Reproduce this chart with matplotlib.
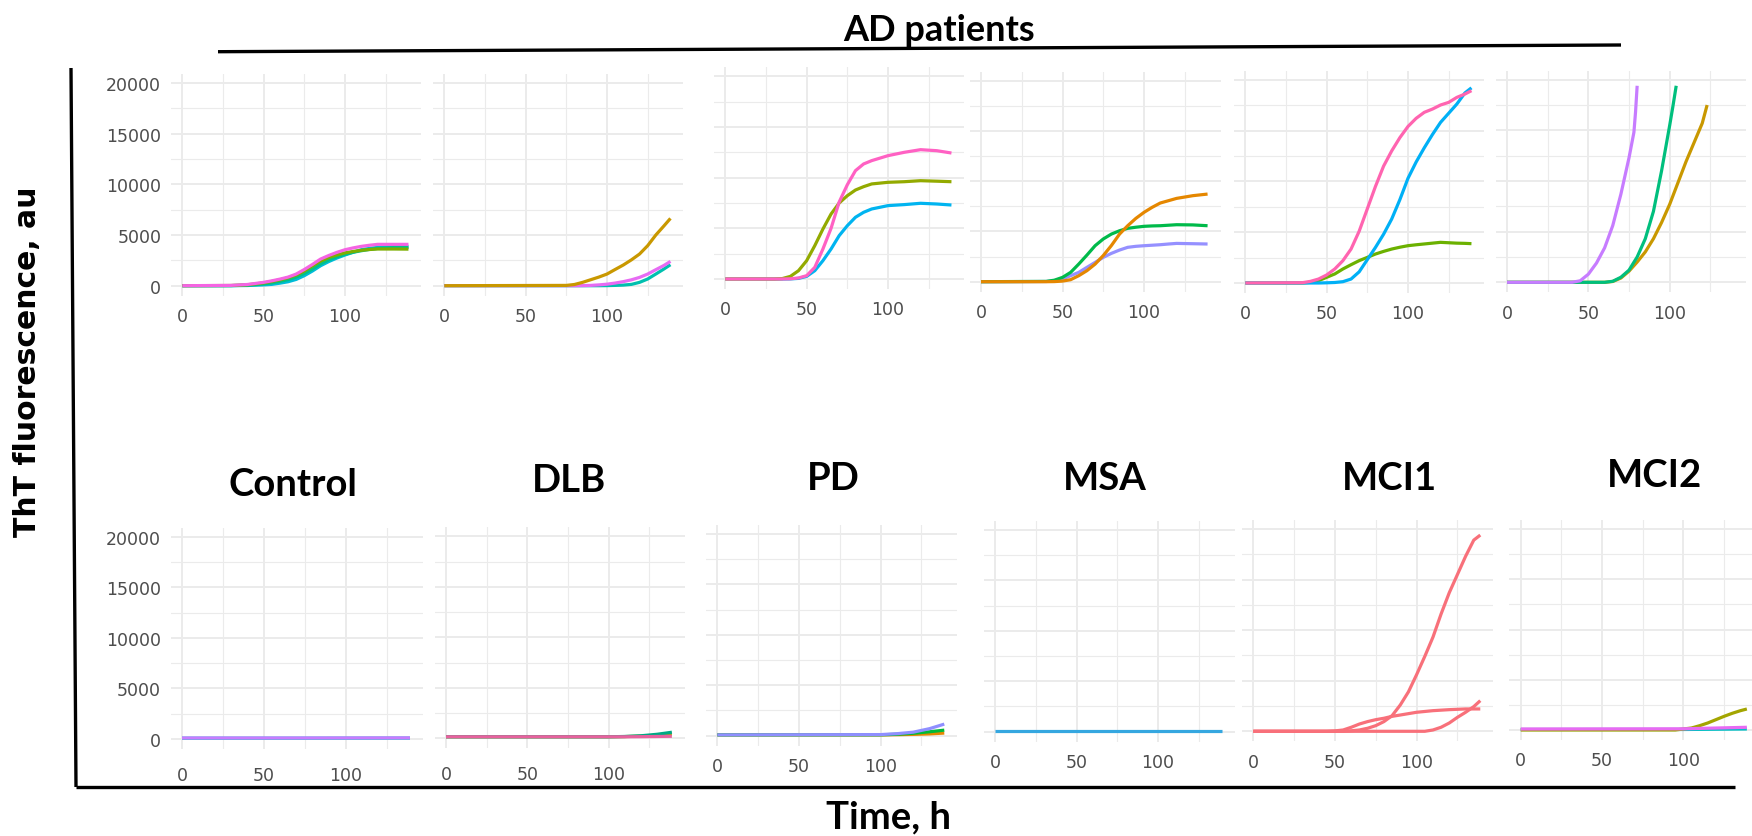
import matplotlib
matplotlib.use("Agg")
import matplotlib.pyplot as plt
from matplotlib.lines import Line2D

W, H = 1752, 837

# ---------------- ThT kinetics: fluorescence (au) vs time (h) ----------------
# Top row: AD patient samples
top_control_h = [0, 30, 40, 50, 55, 60, 65, 70, 75, 80, 85, 90, 95, 100, 105, 110, 115, 120, 130, 139]
top_control_pink = [0, 30, 120, 330, 480, 650, 850, 1150, 1600, 2100, 2630, 2980, 3290, 3550, 3730, 3880, 3990, 4080, 4080, 4080]
top_control_olive = [0, 20, 90, 280, 420, 580, 780, 1050, 1450, 1950, 2430, 2780, 3030, 3240, 3380, 3490, 3570, 3620, 3620, 3610]
top_control_teal = [0, 10, 50, 170, 280, 420, 600, 850, 1200, 1650, 2150, 2550, 2850, 3100, 3300, 3450, 3580, 3680, 3760, 3780]
top_control_cyan = [0, 0, 20, 80, 130, 250, 390, 620, 990, 1450, 1970, 2380, 2730, 3030, 3300, 3550, 3680, 3780, 3860, 3880]

top_dlb_h = [0, 75, 80, 85, 90, 95, 100, 105, 110, 115, 120, 125, 130, 135, 139]
top_dlb_gold = [0, 30, 120, 330, 590, 850, 1150, 1600, 2040, 2550, 3125, 3950, 5000, 5900, 6640]
top_dlb_violet = [0, 0, 0, 10, 30, 80, 150, 260, 400, 580, 820, 1150, 1580, 2000, 2400]
top_dlb_teal = [0, 0, 0, 0, 0, 0, 10, 30, 60, 130, 330, 660, 1150, 1650, 2070]

top_pd_h = [0, 30, 35, 40, 45, 50, 55, 60, 65, 70, 75, 80, 85, 90, 100, 110, 120, 130, 139]
top_pd_olive = [0, 0, 40, 260, 820, 1810, 3290, 4930, 6410, 7500, 8220, 8780, 9110, 9380, 9540, 9600, 9700, 9650, 9600]
top_pd_pink = [0, 0, 0, 20, 100, 330, 1150, 2960, 5000, 7600, 9300, 10690, 11350, 11680, 12170, 12500, 12760, 12660, 12430]
top_pd_cyan = [0, 0, 0, 10, 60, 260, 820, 1810, 2960, 4280, 5260, 6090, 6580, 6910, 7240, 7340, 7470, 7400, 7300]

top_msa_h = [0, 40, 45, 50, 55, 60, 65, 70, 75, 80, 85, 90, 95, 100, 105, 110, 115, 120, 130, 139]
top_msa_orange = [0, 0, 10, 60, 200, 600, 1100, 1750, 2600, 3600, 4740, 5570, 6300, 6900, 7400, 7830, 8060, 8290, 8560, 8720]
top_msa_green = [0, 30, 150, 430, 930, 1760, 2650, 3580, 4250, 4740, 5070, 5310, 5420, 5510, 5550, 5570, 5620, 5670, 5650, 5570]
top_msa_lavender = [0, 20, 100, 270, 600, 930, 1430, 1920, 2420, 2820, 3150, 3420, 3520, 3580, 3630, 3680, 3750, 3810, 3780, 3750]

top_mci1_h = [0, 35, 40, 45, 50, 55, 60, 65, 70, 75, 80, 85, 90, 95, 100, 105, 110, 115, 120, 125, 130, 135, 139]
top_mci1_pink = [0, 30, 160, 390, 790, 1380, 2200, 3340, 5100, 7300, 9500, 11500, 13000, 14300, 15400, 16200, 16790, 17110, 17510, 17770, 18260, 18590, 18920]
top_mci1_blue = [0, 0, 0, 0, 20, 50, 130, 390, 1100, 2300, 3500, 4800, 6300, 8200, 10300, 11900, 13300, 14600, 15800, 16700, 17600, 18700, 19200]
top_mci1_green = [0, 0, 60, 230, 560, 890, 1380, 1800, 2200, 2520, 2850, 3110, 3340, 3520, 3670, 3760, 3840, 3920, 4000, 3960, 3920, 3900, 3870]

top_mci2_purple_h = [0, 40, 45, 50, 55, 60, 65, 70, 75, 78, 79, 80]
top_mci2_purple = [0, 0, 150, 800, 1900, 3400, 5600, 8700, 12300, 14800, 16800, 19400]
top_mci2_teal_h = [0, 60, 65, 70, 75, 80, 85, 90, 95, 100, 102, 104]
top_mci2_teal = [0, 0, 100, 500, 1200, 2500, 4300, 7000, 11000, 15500, 17400, 19400]
top_mci2_gold_h = [0, 60, 65, 70, 75, 80, 85, 90, 95, 100, 105, 110, 115, 120, 123]
top_mci2_gold = [0, 0, 80, 420, 1100, 2000, 3000, 4300, 5900, 7700, 9800, 11900, 13800, 15700, 17500]

# Bottom row: group samples
bot_control_h = [0, 70, 139]
bot_control_teal = [80, 80, 90]
bot_control_purple = [100, 100, 110]

bot_dlb_h = [0, 100, 110, 120, 130, 139]
bot_dlb_teal = [150, 150, 180, 250, 400, 600]
bot_dlb_olive = [150, 150, 170, 220, 300, 400]
bot_dlb_pink = [150, 150, 150, 160, 180, 200]

bot_pd_h = [0, 100, 110, 120, 130, 139]
bot_pd_orange = [80, 80, 100, 130, 180, 260]
bot_pd_green = [80, 90, 140, 240, 390, 550]
bot_pd_lavender = [80, 110, 200, 350, 700, 1150]

bot_msa_h = [0, 70, 139]
bot_msa_blue = [60, 60, 60]

bot_mci1_a_h = [0, 55, 60, 65, 70, 75, 80, 85, 90, 95, 100, 105, 110, 115, 120, 125, 130, 135, 139]
bot_mci1_a = [0, 0, 50, 130, 300, 560, 960, 1550, 2600, 3900, 5600, 7400, 9300, 11600, 13700, 15500, 17300, 18900, 19400]
bot_mci1_b_h = [0, 45, 50, 55, 60, 65, 70, 75, 80, 85, 90, 100, 110, 120, 130, 139]
bot_mci1_b = [0, 0, 40, 130, 400, 720, 960, 1150, 1290, 1480, 1610, 1880, 2040, 2140, 2210, 2210]
bot_mci1_c_h = [0, 105, 110, 115, 120, 125, 130, 135, 139]
bot_mci1_c = [0, 0, 130, 400, 820, 1380, 1880, 2440, 3030]

bot_mci2_olive_h = [0, 95, 100, 105, 110, 115, 120, 125, 130, 135, 139]
bot_mci2_olive = [0, 0, 100, 200, 430, 700, 1030, 1360, 1660, 1920, 2090]
bot_mci2_h = [0, 100, 139]
bot_mci2_cyan = [50, 50, 100]
bot_mci2_magenta = [100, 120, 270]

x_ticks = [0, 50, 100]
x_minor = [25, 75, 125]
y_ticks = [0, 5000, 10000, 15000, 20000]
y_minor = [2500, 7500, 12500, 17500]

group_titles = ["Control", "DLB", "PD", "MSA", "MCI1", "MCI2"]

# ---------------- layout ----------------
XLIM = (-7, 147)
YLIM = (-1000, 20900)
GRID = "#EBEBEB"
TICK_COLOR = "#4D4D4D"

fig = plt.figure(figsize=(W / 100, H / 100), dpi=100)
fig.patch.set_facecolor("white")


def px(x, y):
    return x / W, 1 - y / H


def add_panel(x0, pph, y0, y20k, series, ylabels=False, xpad=8.0):
    """x0/y0: pixel position of (0 h, 0 au); pph: px per hour; y20k: pixel y of 20000 au."""
    ppu = (y0 - y20k) / 20000.0
    left = x0 + XLIM[0] * pph
    width = (XLIM[1] - XLIM[0]) * pph
    bottom = y0 - YLIM[0] * ppu
    height = (YLIM[1] - YLIM[0]) * ppu
    ax = fig.add_axes([left / W, 1 - bottom / H, width / W, height / H])
    ax.set_xlim(*XLIM)
    ax.set_ylim(*YLIM)
    ax.set_xticks(x_ticks)
    ax.set_xticks(x_minor, minor=True)
    ax.set_yticks(y_ticks)
    ax.set_yticks(y_minor, minor=True)
    ax.grid(which="major", color=GRID, lw=1.4)
    ax.grid(which="minor", color=GRID, lw=0.8)
    ax.set_axisbelow(True)
    for s in ax.spines.values():
        s.set_visible(False)
    ax.tick_params(which="both", length=0, labelsize=12.5, labelcolor=TICK_COLOR)
    ax.tick_params(axis="x", pad=xpad)
    ax.tick_params(axis="y", pad=7, labelleft=ylabels)
    ax.set_facecolor("none")
    for hrs, vals, col in series:
        ax.plot(hrs, vals, color=col, lw=2.3, solid_joinstyle="round", solid_capstyle="butt")
    return ax


# top row (AD patients)
add_panel(182.3, 1.627, 286.7, 84.0, [
    (top_control_h, top_control_cyan, "#00BCD8"),
    (top_control_h, top_control_teal, "#00C08B"),
    (top_control_h, top_control_olive, "#7CAE00"),
    (top_control_h, top_control_pink, "#F564E3"),
], ylabels=True)
add_panel(444.3, 1.627, 286.7, 84.0, [
    (top_dlb_h, top_dlb_teal, "#00C0AF"),
    (top_dlb_h, top_dlb_violet, "#E76BF3"),
    (top_dlb_h, top_dlb_gold, "#C99800"),
])
add_panel(725.3, 1.627, 280.0, 77.3, [
    (top_pd_h, top_pd_cyan, "#00B4F0"),
    (top_pd_h, top_pd_olive, "#93AA00"),
    (top_pd_h, top_pd_pink, "#FF61C3"),
])
add_panel(981.0, 1.630, 282.7, 81.7, [
    (top_msa_h, top_msa_lavender, "#9590FF"),
    (top_msa_h, top_msa_green, "#00BA4A"),
    (top_msa_h, top_msa_orange, "#E58700"),
])
add_panel(1245.3, 1.627, 284.0, 80.7, [
    (top_mci1_h, top_mci1_green, "#6BB100"),
    (top_mci1_h, top_mci1_blue, "#00B0F6"),
    (top_mci1_h, top_mci1_pink, "#FF64B0"),
])
add_panel(1507.0, 1.627, 283.3, 80.7, [
    (top_mci2_gold_h, top_mci2_gold, "#C99800"),
    (top_mci2_teal_h, top_mci2_teal, "#00BF7D"),
    (top_mci2_purple_h, top_mci2_purple, "#C77CFF"),
])

# bottom row (groups)
add_panel(182.0, 1.640, 740.0, 537.7, [
    (bot_control_h, bot_control_teal, "#00BFC4"),
    (bot_control_h, bot_control_purple, "#C77CFF"),
], ylabels=True, xpad=12.0)
add_panel(446.0, 1.625, 739.3, 537.3, [
    (bot_dlb_h, bot_dlb_olive, "#A3A500"),
    (bot_dlb_h, bot_dlb_teal, "#00A884"),
    (bot_dlb_h, bot_dlb_pink, "#E7619E"),
], xpad=12.0)
add_panel(717.3, 1.633, 736.7, 535.0, [
    (bot_pd_h, bot_pd_orange, "#E58700"),
    (bot_pd_h, bot_pd_green, "#00BA38"),
    (bot_pd_h, bot_pd_lavender, "#8F8FFF"),
])
add_panel(995.0, 1.630, 732.7, 531.0, [
    (bot_msa_h, bot_msa_blue, "#35A7E0"),
])
add_panel(1253.3, 1.633, 732.3, 530.0, [
    (bot_mci1_a_h, bot_mci1_a, "#F8707A"),
    (bot_mci1_b_h, bot_mci1_b, "#F8707A"),
    (bot_mci1_c_h, bot_mci1_c, "#F8707A"),
])
add_panel(1520.7, 1.627, 731.0, 530.0, [
    (bot_mci2_h, bot_mci2_cyan, "#00BFC4"),
    (bot_mci2_olive_h, bot_mci2_olive, "#A3A500"),
    (bot_mci2_h, bot_mci2_magenta, "#E76BF3"),
])

# ---------------- annotations ----------------
TITLE_FONT = ["Lato", "DejaVu Sans"]
title_pos = [(292.8, 495.7), (569.0, 491.7), (833.0, 490.0),
             (1105.0, 490.0), (1389.0, 490.0), (1654.0, 487.3)]
for name, (tx, ty) in zip(group_titles, title_pos):
    fig.text(*px(tx, ty), name, ha="center", va="baseline", fontsize=27.5,
             fontweight="bold", family=TITLE_FONT, color="black")

fig.text(*px(938.8, 40.7), "AD patients", ha="center", va="baseline", fontsize=26,
         fontweight="bold", family=TITLE_FONT, color="black")
fig.text(*px(888.0, 828.0), "Time, h", ha="center", va="baseline", fontsize=27.5,
         fontweight="bold", family=TITLE_FONT, color="black")
fig.text(*px(28.0, 362.0), "ThT fluorescence, au", ha="center", va="center",
         rotation=90, fontsize=21.5, fontweight="bold", family="DejaVu Sans", color="black")

# bracket line under the "AD patients" heading and the outer L-frame
for (xa, ya), (xb, yb) in [((218, 52.7), (1621, 46.0)),
                           ((71, 69), (76, 788)),
                           ((76, 788), (1735, 788))]:
    fig.add_artist(Line2D([xa / W, xb / W], [1 - ya / H, 1 - yb / H],
                          transform=fig.transFigure, color="black", lw=2.4,
                          solid_capstyle="butt"))

fig.savefig("out.png", dpi=100, facecolor="white")
